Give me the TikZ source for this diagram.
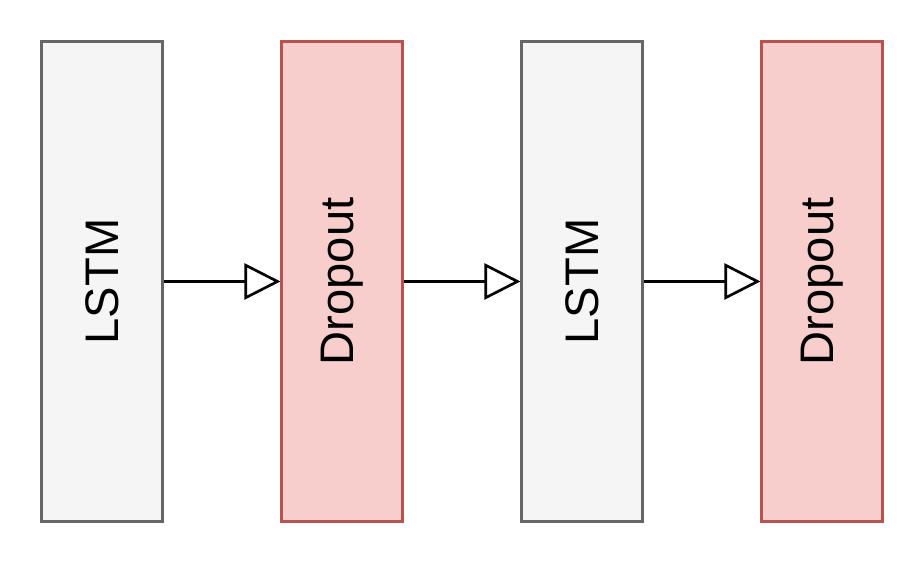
\documentclass[tikz,border=0pt]{standalone}
\usepackage{fontspec}
\setmainfont{Liberation Sans}
\usetikzlibrary{positioning, arrows.meta}
\definecolor{greyfill}{HTML}{f5f5f5}
\definecolor{greyline}{HTML}{666666}
\definecolor{redfill}{HTML}{f8cecc}
\definecolor{redline}{HTML}{b85450}
\begin{document}
\begin{tikzpicture}[x=0.01cm, y=-0.01cm, >={Triangle[open, length=0.36cm, width=0.36cm]}]
		\tikzset{
			layer/.style={rectangle, line width=0.85pt, minimum width=1.2cm, minimum height=4.79cm, inner sep=0pt},
			lstm/.style={layer, draw=greyline, fill=greyfill},
			drop/.style={layer, draw=redline, fill=redfill},
			label/.style={rotate=90, font=\fontsize{13.4}{16}\selectfont}
		}
		\useasboundingbox (0,0) rectangle (920,568);
		% 层
		\node[lstm] (l1) at (102,281.5) {};
		\node[drop] (d1) at (342,281.5) {};
		\node[lstm] (l2) at (582,281.5) {};
		\node[drop] (d2) at (822,281.5) {};
		
		% 文字
		\foreach \n/\t in {l1/LSTM, d1/Dropout, l2/LSTM, d2/Dropout}
			\node[label] at (\n) {\t};
		
		% 连接
		\foreach \a/\b in {l1/d1, d1/l2, l2/d2}
			\draw[->, line width=0.75pt] (\a.east) -- (\b.west);
	
	\end{tikzpicture}
\end{document}
